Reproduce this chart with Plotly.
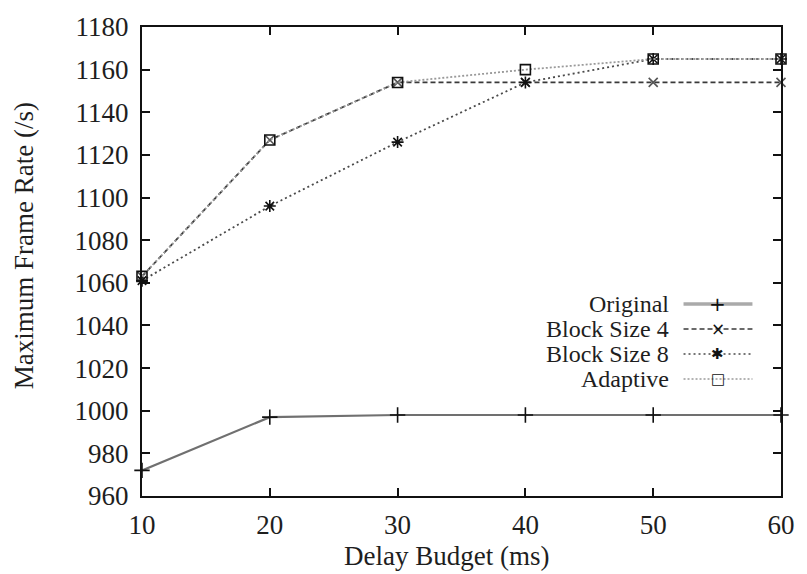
import plotly.graph_objects as go

# Delay budget (ms) and the maximum frame rate reached by each scheme
delay_ms = [10, 20, 30, 40, 50, 60]
original = [972, 997, 998, 998, 998, 998]
block_size_4 = [1063, 1127, 1154, 1154, 1154, 1154]
block_size_8 = [1061, 1096, 1126, 1154, 1165, 1165]
adaptive = [1063, 1127, 1154, 1160, 1165, 1165]

series_names = ["Original", "Block Size 4", "Block Size 8", "Adaptive"]
x_ticks = [10, 20, 30, 40, 50, 60]
y_ticks = list(range(960, 1181, 20))

W, H = 807, 574
L, R, T, B = 142, 16, 17, 78
FONT = "Liberation Serif"
TXT = "#1e1e1e"

styles = [
    dict(line=dict(color="#707070", width=2.2, dash="solid"),
         marker=dict(symbol="cross-thin", size=11, line=dict(color="#111", width=1.6))),
    dict(line=dict(color="#3a3a3a", width=1.8, dash="5px,3px"),
         marker=dict(symbol="x-thin", size=9, line=dict(color="#555", width=1.6))),
    dict(line=dict(color="#4a4a4a", width=1.8, dash="2px,3px"),
         marker=dict(symbol="asterisk", size=10, line=dict(color="#111", width=1.6))),
    dict(line=dict(color="#9a9a9a", width=1.8, dash="2px,2px"),
         marker=dict(symbol="square-open", size=10, color="#111", line=dict(color="#111", width=1.6))),
]

fig = go.Figure()
for name, ys, st in zip(series_names, [original, block_size_4, block_size_8, adaptive], styles):
    fig.add_trace(go.Scatter(x=delay_ms, y=ys, name=name, mode="lines+markers",
                             line=st["line"], marker=st["marker"], showlegend=False,
                             cliponaxis=False))

axis_common = dict(showline=True, linecolor="#111", linewidth=2, mirror="ticks",
                   ticks="inside", ticklen=8, tickwidth=1.5, tickcolor="#111",
                   showgrid=False, zeroline=False,
                   tickfont=dict(family=FONT, size=27, color=TXT))

fig.update_xaxes(range=[10, 60], tickvals=x_ticks, ticklabelstandoff=4, **axis_common)
fig.update_yaxes(range=[960, 1180], tickvals=y_ticks, ticklabelstandoff=6, **axis_common)

# Axis titles
fig.add_annotation(text="Delay Budget (ms)", xref="paper", yref="paper",
                   x=(451 - L) / (W - L - R), y=-(557 - (H - B)) / (H - T - B),
                   showarrow=False, xanchor="center", yanchor="middle",
                   borderpad=0, font=dict(family=FONT, size=27, color=TXT))
fig.add_annotation(text="Maximum Frame Rate (/s)", xref="paper", yref="paper",
                   x=-(L - 22) / (W - L - R), y=((H - B) - 240) / (H - T - B),
                   textangle=-90, showarrow=False, xanchor="center", yanchor="middle",
                   font=dict(family=FONT, size=27, color=TXT))

# Legend: label on the left, line sample with its marker on the right
pw, ph = W - L - R, H - T - B
def px(x):
    return (x - L) / pw
def py(y):
    return ((H - B) - y) / ph

legend_glyphs = ["+", "×", "✱", "□"]
glyph_sizes = [20, 17, 15, 15]
row_y = [300, 325.5, 351, 376.5]
for name, st, gy, glyph, gs in zip(series_names, styles, row_y, legend_glyphs, glyph_sizes):
    fig.add_annotation(text=name, xref="paper", yref="paper", x=px(678), y=py(gy),
                       showarrow=False, xanchor="right", yanchor="middle",
                       borderpad=0, font=dict(family=FONT, size=24, color=TXT))
    ln = st["line"]
    fig.add_shape(type="line", xref="paper", yref="paper",
                  x0=px(692), x1=px(762), y0=py(gy), y1=py(gy),
                  line=dict(color="#aaaaaa" if ln["dash"] == "solid" else ln["color"],
                            width=3.5 if ln["dash"] == "solid" else 1.6,
                            dash=ln["dash"]))
    fig.add_annotation(text=glyph, xref="paper", yref="paper", x=px(727), y=py(gy),
                       showarrow=False, xanchor="center", yanchor="middle",
                       borderpad=0, bgcolor="rgba(0,0,0,0)",
                       font=dict(family="DejaVu Sans", size=gs, color="#111"))

fig.update_layout(width=W, height=H, margin=dict(l=L, r=R, t=T, b=B),
                  paper_bgcolor="white", plot_bgcolor="white", showlegend=False)

fig.write_html("out.html")
